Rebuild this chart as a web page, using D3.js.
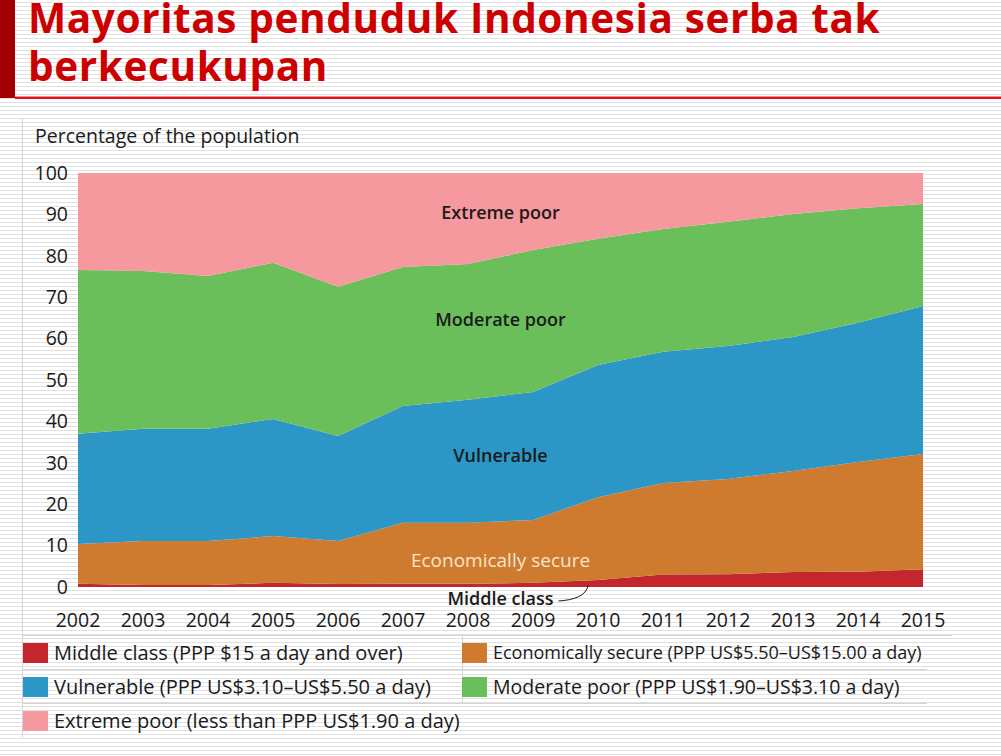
<!DOCTYPE html>
<html lang="en">
<head>
<meta charset="utf-8">
<title>Mayoritas penduduk Indonesia serba tak berkecukupan</title>
<script src="https://d3js.org/d3.v7.min.js"></script>
<style>
  body { margin: 0; background: #fff; }
  svg text { font-family: "Open Sans", "Noto Sans", sans-serif; fill: #1a1a1a; }
</style>
</head>
<body>
<div id="chart"></div>
<script>
  // years on the x axis
  var years = [2002, 2003, 2004, 2005, 2006, 2007, 2008, 2009, 2010, 2011, 2012, 2013, 2014, 2015];

  // share of population in each class (percent)
  var middleClass  = [0.8, 0.5, 0.5, 1.0, 0.7, 0.8, 0.8, 1.0, 1.7, 3.0, 3.1, 3.6, 3.7, 4.3];
  var econSecure   = [9.6, 10.6, 10.6, 11.3, 10.4, 14.7, 14.7, 15.2, 20.0, 22.1, 23.0, 24.4, 26.5, 27.8];
  var vulnerable   = [26.6, 27.1, 27.1, 28.3, 25.4, 28.2, 29.7, 30.9, 31.9, 31.7, 32.1, 32.4, 33.6, 35.8];
  var moderatePoor = [39.6, 38.1, 36.9, 37.7, 36.0, 33.6, 32.8, 34.3, 30.5, 29.7, 30.0, 29.7, 27.7, 24.6];
  var extremePoor  = [23.4, 23.7, 24.9, 21.7, 27.5, 22.7, 22.0, 18.6, 15.9, 13.5, 11.8, 9.9, 8.5, 7.5];

  var yTicks = [0, 10, 20, 30, 40, 50, 60, 70, 80, 90, 100];

  var seriesKeys = ["middle", "econ", "vuln", "moderate", "extreme"];
  var legendLabels = [
    "Middle class (PPP $15 a day and over)",
    "Economically secure (PPP US$5.50\u2013US$15.00 a day)",
    "Vulnerable (PPP US$3.10\u2013US$5.50 a day)",
    "Moderate poor (PPP US$1.90\u2013US$3.10 a day)",
    "Extreme poor (less than PPP US$1.90 a day)"
  ];
  var colors = ["#c4262e", "#cf7b2f", "#2c97c7", "#6abf5b", "#f5999e"];

  var width = 1001, height = 756;

  var rows = years.map(function (yr, i) {
    return { year: yr, middle: middleClass[i], econ: econSecure[i], vuln: vulnerable[i],
             moderate: moderatePoor[i], extreme: extremePoor[i] };
  });

  var svg = d3.select("#chart").append("svg")
    .attr("width", width)
    .attr("height", height);

  // slide background with thin horizontal stripes
  var defs = svg.append("defs");
  var pat = defs.append("pattern")
    .attr("id", "stripes")
    .attr("patternUnits", "userSpaceOnUse")
    .attr("width", 8).attr("height", 4);
  pat.append("rect").attr("width", 8).attr("height", 4).attr("fill", "#ffffff");
  pat.append("rect").attr("y", 2).attr("width", 8).attr("height", 1).attr("fill", "#e1e1e1");
  svg.append("rect").attr("width", width).attr("height", height).attr("fill", "url(#stripes)");

  // title block
  svg.append("rect").attr("x", 0).attr("y", 0).attr("width", 15).attr("height", 98).attr("fill", "#a30006");
  svg.append("rect").attr("x", 15).attr("y", 96.5).attr("width", width - 15).attr("height", 2.5).attr("fill", "#e3141c");

  var titleLines = ["Mayoritas penduduk Indonesia serba tak", "berkecukupan"];
  var title = svg.append("g")
    .style("font-weight", 700)
    .style("font-size", "40.5px")
    .style("letter-spacing", "0.6px");
  title.selectAll("text")
    .data(titleLines)
    .join("text")
    .attr("x", 28)
    .attr("y", function (d, i) { return 33 + i * 48; })
    .style("fill", "#cc0000")
    .text(function (d) { return d; });

  // faint frame lines of the chart box
  var frame = svg.append("g").attr("stroke", "#d4d4d4").attr("stroke-width", 1);
  frame.append("line").attr("x1", 22.5).attr("x2", 22.5).attr("y1", 118).attr("y2", 737);
  frame.append("line").attr("x1", 22).attr("x2", 952).attr("y1", 635.5).attr("y2", 635.5);
  frame.append("line").attr("x1", 22).attr("x2", 927).attr("y1", 669.5).attr("y2", 669.5);
  frame.append("line").attr("x1", 22).attr("x2", 927).attr("y1", 703.5).attr("y2", 703.5);
  frame.append("line").attr("x1", 462.5).attr("x2", 462.5).attr("y1", 636).attr("y2", 703);

  // scales
  var x = d3.scaleLinear().domain([2002, 2015]).range([78, 923]);
  var y = d3.scaleLinear().domain([0, 100]).range([587, 173]);

  var stack = d3.stack().keys(seriesKeys);
  var stacked = stack(rows);

  var area = d3.area()
    .x(function (d) { return x(d.data.year); })
    .y0(function (d) { return y(d[0]); })
    .y1(function (d) { return y(d[1]); });

  svg.append("g").selectAll("path")
    .data(stacked)
    .join("path")
    .attr("fill", function (d, i) { return colors[i]; })
    .attr("d", area);

  // y axis labels
  svg.append("text")
    .attr("x", 35).attr("y", 143)
    .style("font-size", "19.5px")
    .text("Percentage of the population");

  svg.append("g").selectAll("text")
    .data(yTicks)
    .join("text")
    .attr("x", 68)
    .attr("y", function (d) { return y(d); })
    .attr("dy", "0.35em")
    .attr("text-anchor", "end")
    .style("font-size", "19.5px")
    .text(function (d) { return d; });

  // x axis labels
  svg.append("g").selectAll("text")
    .data(years)
    .join("text")
    .attr("x", function (d) { return x(d); })
    .attr("y", 620)
    .attr("dy", "0.35em")
    .attr("text-anchor", "middle")
    .style("font-size", "19.5px")
    .text(function (d) { return d; });

  // labels inside the areas
  var midX = x(2008.5);
  var inLabels = [
    { text: "Extreme poor", v: 90.3, color: "#1a1a1a", weight: 600, size: 18 },
    { text: "Moderate poor", v: 64.5, color: "#1a1a1a", weight: 600, size: 18 },
    { text: "Vulnerable", v: 31.7, color: "#1a1a1a", weight: 600, size: 18 },
    { text: "Economically secure", v: 6.5, color: "#f7e6cc", weight: 400, size: 19 }
  ];
  svg.append("g").selectAll("text")
    .data(inLabels)
    .join("text")
    .attr("x", midX)
    .attr("y", function (d) { return y(d.v); })
    .attr("dy", "0.35em")
    .attr("text-anchor", "middle")
    .style("font-size", function (d) { return d.size + "px"; })
    .style("font-weight", function (d) { return d.weight; })
    .style("fill", function (d) { return d.color; })
    .text(function (d) { return d.text; });

  // middle class annotation with leader
  svg.append("text")
    .attr("x", midX)
    .attr("y", 599)
    .attr("dy", "0.35em")
    .attr("text-anchor", "middle")
    .style("font-size", "18px")
    .style("font-weight", 600)
    .text("Middle class");
  var tx = x(2009.85), ty = y(0.5);
  svg.append("path")
    .attr("d", "M" + (midX + 58) + ",601 C" + (tx - 14) + ",600 " + (tx - 2) + ",596 " + tx + "," + ty)
    .attr("fill", "none")
    .attr("stroke", "#1a1a1a")
    .attr("stroke-width", 1);

  // legend
  var legendPos = [[23, 643], [462, 643], [23, 677], [462, 677], [23, 711]];
  var legendSize = [20, 18, 20, 19.5, 20];
  var leg = svg.append("g").selectAll("g")
    .data(legendLabels)
    .join("g")
    .attr("transform", function (d, i) { return "translate(" + legendPos[i][0] + "," + legendPos[i][1] + ")"; });
  leg.append("rect")
    .attr("width", 25).attr("height", 20)
    .attr("fill", function (d, i) { return colors[i]; });
  leg.append("text")
    .attr("x", 31).attr("y", 10)
    .attr("dy", "0.35em")
    .style("font-size", function (d, i) { return legendSize[i] + "px"; })
    .text(function (d) { return d; });
</script>
</body>
</html>
